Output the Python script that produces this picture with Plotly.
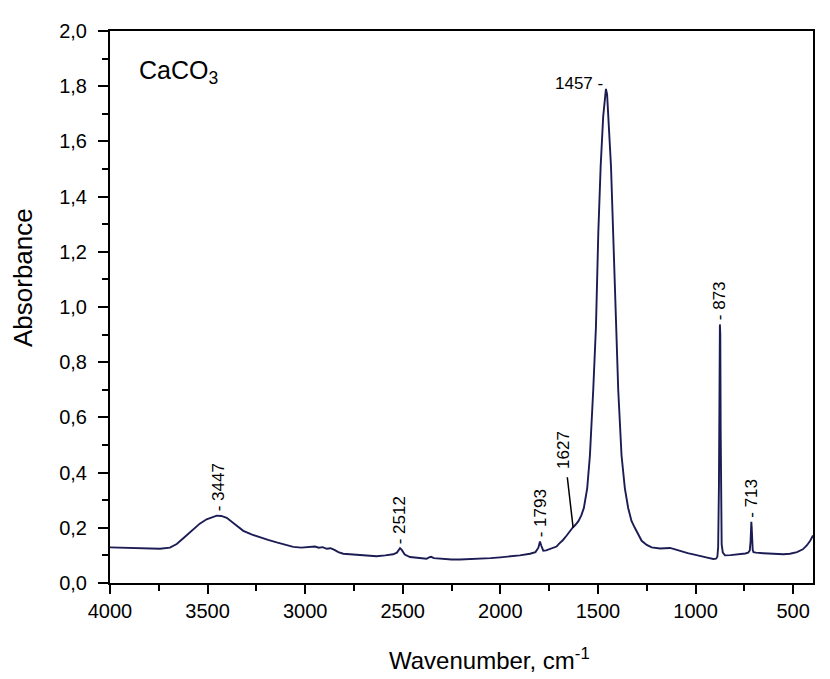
import plotly.graph_objects as go

# ---- spectrum (wavenumber in cm-1, absorbance) ----
wavenumber = [4000, 3900, 3800, 3744, 3693, 3658, 3620, 3573, 3540, 3505, 3475, 3453, 3430,
              3402, 3360, 3317, 3275, 3232, 3190, 3146, 3100, 3061, 3020, 2975, 2950, 2930,
              2910, 2890, 2870, 2850, 2830, 2805, 2760, 2719, 2680, 2634, 2590, 2549, 2530,
              2520, 2514, 2505, 2490, 2463, 2420, 2378, 2365, 2355, 2340, 2293, 2250, 2207,
              2150, 2100, 2050, 2000, 1951, 1900, 1848, 1820, 1805, 1797, 1790, 1780, 1765,
              1740, 1712, 1700, 1680, 1660, 1645, 1630, 1615, 1600, 1585, 1572, 1555, 1541,
              1524, 1510, 1498, 1486, 1473, 1465, 1459, 1453, 1447, 1433, 1422, 1408, 1396,
              1379, 1362, 1345, 1328, 1311, 1290, 1276, 1250, 1225, 1182, 1131, 1100, 1080,
              1040, 1000, 977, 940, 909, 895, 888, 884, 880, 877, 875, 873, 871, 869, 866,
              860, 849, 820, 800, 773, 745, 730, 722, 718, 716, 714, 712, 710, 707, 703, 690,
              653, 600, 550, 516, 480, 450, 431, 415, 398]
absorbance = [0.129, 0.127, 0.125, 0.124, 0.128, 0.141, 0.165, 0.195, 0.215, 0.231, 0.240,
              0.244, 0.243, 0.236, 0.213, 0.189, 0.176, 0.165, 0.156, 0.147, 0.138, 0.131,
              0.128, 0.129, 0.132, 0.128, 0.130, 0.124, 0.126, 0.120, 0.112, 0.106, 0.104,
              0.102, 0.100, 0.097, 0.100, 0.104, 0.110, 0.120, 0.126, 0.120, 0.103, 0.094,
              0.090, 0.088, 0.093, 0.095, 0.090, 0.086, 0.085, 0.085, 0.086, 0.088, 0.090,
              0.093, 0.096, 0.100, 0.106, 0.112, 0.128, 0.150, 0.135, 0.117, 0.118, 0.124,
              0.132, 0.142, 0.155, 0.172, 0.187, 0.200, 0.211, 0.224, 0.245, 0.272, 0.343,
              0.462, 0.700, 0.930, 1.270, 1.510, 1.690, 1.760, 1.790, 1.770, 1.690, 1.510,
              1.270, 0.930, 0.700, 0.462, 0.343, 0.272, 0.225, 0.200, 0.172, 0.153, 0.138,
              0.129, 0.125, 0.127, 0.121, 0.116, 0.108, 0.102, 0.099, 0.092, 0.087, 0.088,
              0.095, 0.130, 0.350, 0.750, 0.937, 0.900, 0.550, 0.250, 0.140, 0.110, 0.100,
              0.101, 0.102, 0.103, 0.107, 0.110, 0.118, 0.150, 0.205, 0.222, 0.200, 0.150,
              0.120, 0.112, 0.110, 0.108, 0.105, 0.104, 0.106, 0.112, 0.122, 0.135, 0.150,
              0.172]

# ---- peak labels ----
peak_labels = ["3447", "2512", "1793", "1627", "1457", "873", "713"]
peak_wn = [3447, 2512, 1793, 1627, 1457, 873, 713]
peak_abs = [0.245, 0.127, 0.150, 0.200, 1.79, 0.937, 0.222]

# ---- ticks ----
x_ticks = [4000, 3500, 3000, 2500, 2000, 1500, 1000, 500]
y_ticks = [0.0, 0.2, 0.4, 0.6, 0.8, 1.0, 1.2, 1.4, 1.6, 1.8, 2.0]

FONT = "Liberation Sans, Arial, Helvetica, sans-serif"

fig = go.Figure()
fig.add_trace(go.Scatter(
    x=wavenumber, y=absorbance, mode="lines",
    line=dict(color="#1c1c55", width=1.9),
    showlegend=False, hoverinfo="skip"))

lab_font = dict(family=FONT, size=17, color="black")
for lab, wn, ab in zip(peak_labels, peak_wn, peak_abs):
    if lab == "1457":
        fig.add_annotation(x=wn, y=ab, text=lab + " -", showarrow=False,
                           xanchor="right", yanchor="middle", xshift=-1, yshift=5,
                           font=lab_font)
    elif lab == "1627":
        fig.add_annotation(x=wn, y=ab, text=lab, showarrow=True, arrowhead=0,
                           arrowwidth=1.5, arrowcolor="black", ax=-9, ay=-78,
                           startstandoff=7, standoff=0, textangle=-90, font=lab_font)
    else:
        fig.add_annotation(x=wn, y=ab, text="- " + lab, showarrow=False,
                           textangle=-90, xanchor="center", yanchor="bottom",
                           yshift=2, font=lab_font)

# sample name
fig.add_annotation(xref="paper", yref="paper", x=0.038, y=0.925,
                   text="CaCO<sub>3</sub>", showarrow=False,
                   xanchor="left", yanchor="middle",
                   font=dict(family=FONT, size=25, color="black"))

# axis titles
fig.add_annotation(xref="paper", yref="paper", x=-0.124, y=0.554,
                   text="Absorbance", showarrow=False, textangle=-90,
                   xanchor="center", yanchor="middle",
                   font=dict(family=FONT, size=26, color="black"))
fig.add_annotation(xref="paper", yref="paper", x=0.54, y=-0.137,
                   text="Wavenumber, cm<sup>-1</sup>", showarrow=False,
                   xanchor="center", yanchor="middle",
                   font=dict(family=FONT, size=24, color="black"))

# the page body adds an 8 px offset, so the figure is 8 px smaller
fig.update_layout(
    width=822, height=671,
    margin=dict(l=102, r=17, t=14, b=96),
    paper_bgcolor="white", plot_bgcolor="white",
    separators=",.",
    font=dict(family=FONT, color="black"),
    showlegend=False,
)

fig.update_xaxes(
    range=[4000, 398], tickvals=x_ticks, ticks="outside", ticklen=9,
    tickwidth=1.5, tickcolor="black", showline=True, linecolor="black",
    linewidth=2, mirror=True, showgrid=False, zeroline=False,
    tickfont=dict(family=FONT, size=20, color="black"),
    minor=dict(tick0=0, dtick=250, ticks="outside", ticklen=6, tickwidth=1.5,
               tickcolor="black", showgrid=False),
)
fig.update_yaxes(
    range=[0, 2.0], tickvals=y_ticks, tickformat=".1f", ticks="outside",
    ticklen=10, tickwidth=1.5, tickcolor="black", showline=True,
    linecolor="black", linewidth=2, mirror=True, showgrid=False,
    zeroline=False, ticklabelstandoff=7,
    tickfont=dict(family=FONT, size=20, color="black"),
    minor=dict(tick0=0, dtick=0.1, ticks="outside", ticklen=6, tickwidth=1.5,
               tickcolor="black", showgrid=False),
)

fig.write_html("out.html")
